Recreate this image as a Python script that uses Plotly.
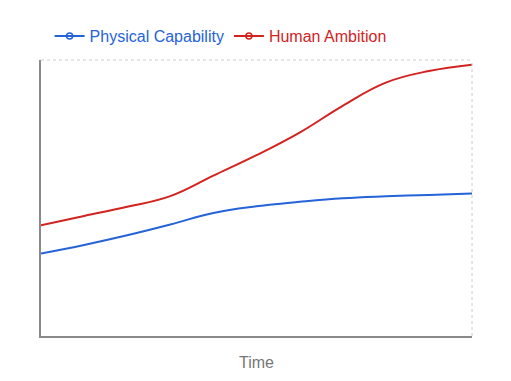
import plotly.graph_objects as go

time_points = [0, 1, 2, 3, 4, 5, 6, 7, 8, 9, 10]
physical_capability = [29.9, 33.0, 36.5, 40.4, 44.6, 47.0, 48.6, 49.9, 50.6, 51.1, 51.6]
human_ambition = [40.1, 43.5, 46.8, 50.7, 58.1, 65.5, 73.7, 83.4, 91.8, 96.0, 98.3]
series_names = ["Physical Capability", "Human Ambition"]
series_colors = ["#2563d8", "#d2231f"]

fig = go.Figure()
for name, vals, col in zip(series_names, [physical_capability, human_ambition], series_colors):
    fig.add_trace(go.Scatter(x=time_points, y=vals, mode="lines",
                             line=dict(color=col, width=2, shape="spline", smoothing=1.2),
                             showlegend=False, hoverinfo="skip"))
    fig.add_trace(go.Scatter(x=[None], y=[None], mode="lines+markers",
                             name=f"<span style='color:{col}'>{name}</span>",
                             line=dict(color=col, width=2),
                             marker=dict(symbol="circle-open", size=6, color=col, line=dict(width=1.5, color=col))))

# page body has an 8px margin, so the figure is sized/offset to compensate
fig.update_layout(
    width=503, height=373,
    margin=dict(l=33, r=39, t=52, b=45, autoexpand=False),
    paper_bgcolor="white", plot_bgcolor="white",
    font=dict(family="Liberation Sans, Arial, sans-serif", size=16),
    legend=dict(orientation="h", x=0.02, xanchor="left", y=0.925, yanchor="middle", yref="container",
                font=dict(size=16), itemwidth=30, tracegroupgap=0),
    xaxis=dict(range=[0, 10], showgrid=False, zeroline=False, showticklabels=False, ticks="",
               showline=True, linecolor="#8a8a8a", linewidth=1.5,
               title=dict(text="Time", font=dict(size=16, color="#777777"), standoff=20)),
    yaxis=dict(range=[0, 100], showgrid=False, zeroline=False, showticklabels=False, ticks="",
               showline=True, linecolor="#8a8a8a", linewidth=1.5),
    shapes=[
        dict(type="line", xref="paper", yref="paper", x0=0, x1=1, y0=1, y1=1,
             line=dict(color="#cccccc", width=1, dash="dot")),
        dict(type="line", xref="paper", yref="paper", x0=1, x1=1, y0=0, y1=1,
             line=dict(color="#cccccc", width=1, dash="dot")),
    ],
)

fig.write_html("out.html")
